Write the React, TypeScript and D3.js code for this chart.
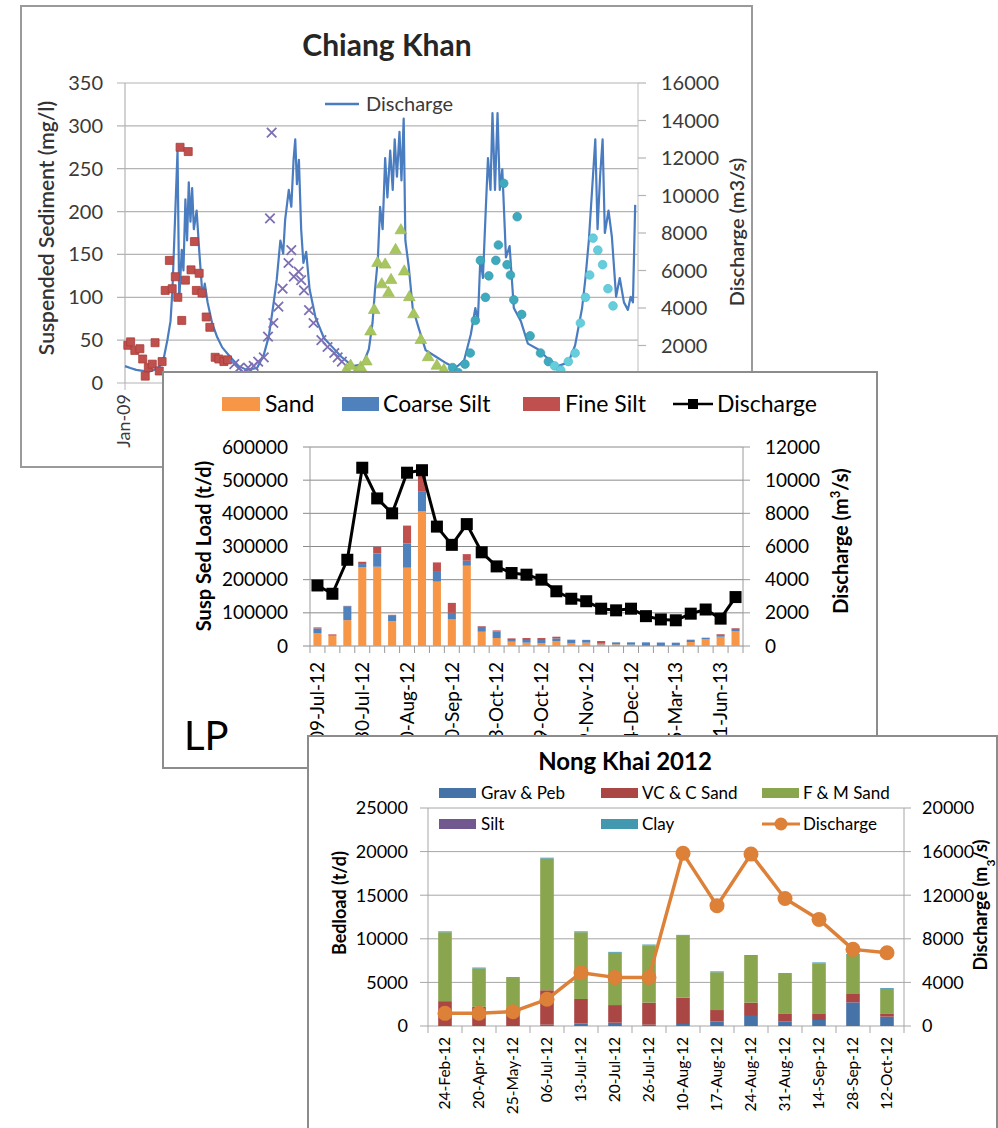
import React from "react";
import * as d3 from "d3";

const FONT = "Lato, 'Open Sans', 'Liberation Sans', sans-serif";

/* ================= Chiang Khan ================= */
const ckLeftTicks = [0, 50, 100, 150, 200, 250, 300, 350];
const ckRightTicks = [0, 2000, 4000, 6000, 8000, 10000, 12000, 14000, 16000];
const ckXLabels: [string, string][] = [["2009-01-01", "Jan-09"]];

const ckDischarge: [string, number][] = [
  ["2009-01-01", 900], ["2009-01-20", 800], ["2009-02-10", 700], ["2009-03-05", 650], ["2009-03-25", 600],
  ["2009-04-15", 700], ["2009-05-05", 900], ["2009-05-20", 1400], ["2009-06-01", 2300], ["2009-06-12", 3300],
  ["2009-06-19", 5000], ["2009-06-28", 8700], ["2009-07-07", 12400], ["2009-07-13", 4400], ["2009-07-22", 7100],
  ["2009-07-28", 6000], ["2009-08-04", 9800], ["2009-08-10", 7600], ["2009-08-16", 10700], ["2009-08-22", 8600],
  ["2009-08-28", 10400], ["2009-09-03", 8200], ["2009-09-13", 9200], ["2009-09-22", 7100], ["2009-10-04", 4600],
  ["2009-10-12", 5300], ["2009-10-22", 4300], ["2009-11-07", 3200], ["2009-11-25", 2450], ["2009-12-13", 1900],
  ["2010-01-10", 1400], ["2010-02-10", 900], ["2010-03-10", 700], ["2010-04-16", 800], ["2010-05-10", 1500],
  ["2010-05-28", 2500], ["2010-06-12", 4050], ["2010-06-25", 5500], ["2010-07-08", 7600], ["2010-07-18", 6900],
  ["2010-07-25", 8700], ["2010-08-07", 10300], ["2010-08-16", 9400], ["2010-08-24", 11900], ["2010-08-30", 13000],
  ["2010-09-05", 10600], ["2010-09-12", 11900], ["2010-09-20", 8200], ["2010-09-28", 6400], ["2010-10-08", 7000],
  ["2010-10-20", 5000], ["2010-11-10", 3500], ["2010-12-10", 2400], ["2011-01-10", 1900], ["2011-02-10", 1400],
  ["2011-03-22", 900], ["2011-04-28", 1000], ["2011-05-19", 1800], ["2011-06-01", 3200], ["2011-06-10", 5000],
  ["2011-06-20", 6600], ["2011-06-28", 9400], ["2011-07-07", 8200], ["2011-07-16", 12000], ["2011-07-24", 9900],
  ["2011-08-03", 12400], ["2011-08-12", 10300], ["2011-08-19", 13000], ["2011-08-27", 11000], ["2011-09-05", 13400],
  ["2011-09-12", 10800], ["2011-09-20", 14100], ["2011-09-26", 7600], ["2011-10-08", 6200], ["2011-10-22", 4000],
  ["2011-11-13", 2900], ["2011-12-07", 1750], ["2012-01-13", 1400], ["2012-02-19", 1050], ["2012-03-22", 800],
  ["2012-04-22", 1200], ["2012-05-16", 2600], ["2012-06-01", 4000], ["2012-06-10", 3300], ["2012-06-19", 6700],
  ["2012-06-28", 5600], ["2012-07-08", 9200], ["2012-07-16", 12000], ["2012-07-25", 10300], ["2012-08-01", 14400],
  ["2012-08-10", 10300], ["2012-08-19", 14400], ["2012-08-27", 10300], ["2012-09-05", 11400], ["2012-09-18", 6700],
  ["2012-10-01", 7300], ["2012-10-16", 4000], ["2012-11-10", 3300], ["2012-12-05", 2100], ["2013-01-10", 1800],
  ["2013-02-07", 1400], ["2013-03-22", 900], ["2013-04-28", 1100], ["2013-05-22", 2000], ["2013-06-16", 4000],
  ["2013-06-28", 5600], ["2013-07-10", 7600], ["2013-07-22", 10400], ["2013-08-02", 13000], ["2013-08-10", 8200],
  ["2013-08-19", 11000], ["2013-08-28", 13000], ["2013-09-05", 8000], ["2013-09-18", 9200], ["2013-09-30", 7800],
  ["2013-10-15", 4600], ["2013-10-28", 5600], ["2013-11-12", 4300], ["2013-11-26", 3900], ["2013-12-06", 4600],
  ["2013-12-14", 4300], ["2013-12-22", 9500],
];

const ckSS2009: [string, number][] = [
  ["2009-01-11", 44], ["2009-01-21", 48], ["2009-02-05", 38], ["2009-02-23", 40], ["2009-03-05", 28],
  ["2009-03-14", 8], ["2009-03-25", 18], ["2009-04-08", 22], ["2009-04-18", 47], ["2009-05-03", 14],
  ["2009-05-13", 25], ["2009-05-24", 108], ["2009-06-08", 143], ["2009-06-18", 110], ["2009-06-29", 124],
  ["2009-07-08", 100], ["2009-07-16", 275], ["2009-07-22", 73], ["2009-08-04", 120], ["2009-08-14", 270],
  ["2009-08-24", 132], ["2009-09-05", 165], ["2009-09-12", 108], ["2009-09-22", 128], ["2009-10-02", 105],
  ["2009-10-17", 77], ["2009-10-30", 65], ["2009-11-18", 30], ["2009-12-01", 28], ["2009-12-19", 25],
  ["2010-01-01", 27],
];
const ckSS2010: [string, number][] = [
  ["2010-01-25", 22], ["2010-02-10", 17], ["2010-02-28", 12], ["2010-03-15", 18], ["2010-04-04", 20],
  ["2010-04-20", 25], ["2010-05-10", 30], ["2010-05-25", 54], ["2010-06-01", 192], ["2010-06-07", 292],
  ["2010-06-13", 70], ["2010-07-01", 89], ["2010-07-16", 110], ["2010-08-06", 140], ["2010-08-16", 155],
  ["2010-08-25", 124], ["2010-09-11", 130], ["2010-09-20", 120], ["2010-09-30", 108], ["2010-10-18", 85],
  ["2010-11-03", 70], ["2010-12-01", 50], ["2010-12-23", 42], ["2011-01-16", 35], ["2011-01-28", 30],
  ["2011-02-12", 25],
];
const ckSS2011: [string, number][] = [
  ["2011-02-28", 15], ["2011-03-15", 20], ["2011-04-04", 12], ["2011-04-20", 18], ["2011-05-10", 25],
  ["2011-05-25", 60], ["2011-06-07", 85], ["2011-06-19", 140], ["2011-07-04", 115], ["2011-07-16", 138],
  ["2011-07-28", 105], ["2011-08-06", 120], ["2011-08-22", 155], ["2011-09-10", 178], ["2011-09-22", 130],
  ["2011-10-10", 100], ["2011-10-25", 80], ["2011-11-20", 50], ["2011-12-16", 30], ["2012-01-16", 20],
  ["2012-02-10", 15],
];
const ckSS2012: [string, number][] = [
  ["2012-03-12", 18], ["2012-04-01", 12], ["2012-04-25", 22], ["2012-05-14", 35], ["2012-06-01", 73],
  ["2012-06-19", 143], ["2012-07-07", 100], ["2012-07-19", 125], ["2012-08-13", 143], ["2012-08-22", 161],
  ["2012-09-10", 233], ["2012-09-22", 138], ["2012-10-04", 126], ["2012-10-16", 97], ["2012-10-28", 194],
  ["2012-11-13", 80], ["2012-12-13", 55], ["2013-01-19", 35], ["2013-02-16", 25],
];
const ckSS2013: [string, number][] = [
  ["2013-03-10", 20], ["2013-04-01", 15], ["2013-04-28", 25], ["2013-05-22", 35], ["2013-06-10", 70],
  ["2013-06-28", 100], ["2013-07-13", 126], ["2013-07-25", 169], ["2013-08-11", 155], ["2013-08-28", 138],
  ["2013-09-16", 110], ["2013-10-04", 90],
];

/* ================= LP ================= */
const lpTickLabels = [
  "09-Jul-12", "", "", "30-Jul-12", "", "", "20-Aug-12", "", "", "10-Sep-12", "", "", "03-Oct-12", "", "",
  "29-Oct-12", "", "", "19-Nov-12", "", "", "14-Dec-12", "", "", "15-Mar-13", "", "", "11-Jun-13", "",
];
const lpSand = [38000, 30000, 78000, 237000, 239000, 75000, 236000, 407000, 194000, 80000, 242000, 43000, 24000, 13000, 10000, 8000, 15000, 8000, 10000, 5000, 5000, 4000, 1000, 500, 2000, 12000, 20000, 28000, 44000];
const lpCoarse = [15000, 2000, 42000, 10000, 40000, 18000, 73000, 58000, 32000, 20000, 15000, 15000, 20000, 5000, 8000, 10000, 8000, 10000, 8000, 2000, 6000, 7000, 10000, 10000, 8000, 6000, 5000, 6000, 8000];
const lpFine = [3000, 3000, 1000, 7000, 20000, 1000, 54000, 50000, 26000, 30000, 20000, 2000, 3000, 5000, 6000, 6000, 5000, 1000, 500, 8000, 0, 0, 0, 0, 0, 1000, 0, 2000, 2000];
const lpDischarge = [3650, 3150, 5200, 10750, 8900, 8000, 10450, 10600, 7200, 6100, 7350, 5650, 4800, 4400, 4300, 4000, 3300, 2850, 2700, 2250, 2150, 2250, 1800, 1600, 1550, 1950, 2200, 1650, 2950];
const lpLeftTicks = [0, 100000, 200000, 300000, 400000, 500000, 600000];
const lpRightTicks = [0, 2000, 4000, 6000, 8000, 10000, 12000];

/* ================= Nong Khai ================= */
const nkCategories = ["24-Feb-12", "20-Apr-12", "25-May-12", "06-Jul-12", "13-Jul-12", "20-Jul-12", "26-Jul-12", "10-Aug-12", "17-Aug-12", "24-Aug-12", "31-Aug-12", "14-Sep-12", "28-Sep-12", "12-Oct-12"];
const nkGrav = [0, 0, 0, 150, 300, 380, 150, 230, 500, 1150, 500, 690, 2710, 1070];
const nkVC = [2850, 2200, 1700, 3950, 2800, 2020, 2530, 3020, 1330, 1530, 950, 690, 1040, 380];
const nkFM = [7900, 4400, 3800, 15100, 7650, 6000, 6560, 7100, 4330, 5350, 4510, 5810, 4400, 2790];
const nkSilt = [0, 0, 0, 0, 0, 0, 0, 0, 0, 0, 0, 0, 0, 0];
const nkClay = [100, 100, 100, 100, 100, 100, 100, 100, 100, 100, 100, 100, 100, 100];
const nkDischarge = [1160, 1170, 1310, 2450, 4890, 4460, 4460, 15840, 11040, 15770, 11700, 9780, 7030, 6720];
const nkLeftTicks = [0, 5000, 10000, 15000, 20000, 25000];
const nkRightTicks = [0, 4000, 8000, 12000, 16000, 20000];

const parse = d3.timeParse("%Y-%m-%d");

function RText({ x, y, children, size, weight = 400, fill = "#000", anchor = "middle" }: any) {
  return (
    <text transform={`translate(${x},${y}) rotate(-90)`} textAnchor={anchor} dy="0.35em" fontSize={size} fontWeight={weight} fill={fill}>
      {children}
    </text>
  );
}

function ChiangKhan() {
  const L = 125, R = 638, T = 83, B = 383;
  const x = d3.scaleTime().domain([parse("2009-01-01")!, parse("2014-01-01")!]).range([L, R]);
  const yL = d3.scaleLinear().domain([0, 350]).range([B, T]);
  const yR = d3.scaleLinear().domain([0, 16000]).range([B, T]);
  const line = d3.line<[string, number]>().x((d) => x(parse(d[0])!)).y((d) => yR(d[1]));
  const sym = (type: any, size: number) => d3.symbol().type(type).size(size)()!;
  const series = [
    { data: ckSS2009, path: sym(d3.symbolSquare, 64), fill: "#C0504D", stroke: "#a83c3a", sw: 0.8 },
    { data: ckSS2010, path: sym(d3.symbolX, 60), fill: "none", stroke: "#7d6fb4", sw: 1.8 },
    { data: ckSS2011, path: sym(d3.symbolTriangle, 60), fill: "#a8c660", stroke: "#98b650", sw: 0.6 },
    { data: ckSS2012, path: sym(d3.symbolCircle, 60), fill: "#3fa9bd", stroke: "#3196aa", sw: 0.6 },
    { data: ckSS2013, path: sym(d3.symbolCircle, 60), fill: "#66cddd", stroke: "#4fbccd", sw: 0.6 },
  ];
  return (
    <g>
      <rect x={21} y={6} width={731} height={461} fill="#fff" stroke="#9a9a9a" strokeWidth={2} />
      <text x={387} y={56} textAnchor="middle" fontSize={30} fontWeight={700} fill="#262626">Chiang Khan</text>
      {ckLeftTicks.map((t) => (
        <g key={t}>
          <line x1={L - 8} x2={R} y1={yL(t)} y2={yL(t)} stroke="#b4b4b4" strokeWidth={1.2} />
          <text x={103} y={yL(t)} dy="0.35em" textAnchor="end" fontSize={20} fill="#3a3a3a">{t}</text>
        </g>
      ))}
      <line x1={L} x2={L} y1={T} y2={B} stroke="#b4b4b4" strokeWidth={1.2} />
      <line x1={R} x2={R} y1={T} y2={B} stroke="#c8c8c8" strokeWidth={1.2} />
      {ckRightTicks.map((t) => (
        <g key={t}>
          <line x1={R} x2={R + 8} y1={yR(t)} y2={yR(t)} stroke="#b4b4b4" strokeWidth={1.2} />
          <text x={661} y={yR(t)} dy="0.35em" fontSize={20} fill="#3a3a3a">{t}</text>
        </g>
      ))}
      {ckXLabels.map(([d, lab]) => (
        <g key={lab}>
          <line x1={x(parse(d)!)} x2={x(parse(d)!)} y1={B} y2={B + 7} stroke="#b4b4b4" />
          <RText x={x(parse(d)!) - 1} y={394} anchor="end" size={18} fill="#3a3a3a">{lab}</RText>
        </g>
      ))}
      <path d={line(ckDischarge)!} fill="none" stroke="#4a7cc0" strokeWidth={2.2} strokeLinejoin="round" />
      {series.map((s, i) =>
        s.data.map((d, j) => (
          <path key={`${i}-${j}`} d={s.path} transform={`translate(${x(parse(d[0])!)},${yL(d[1])})`} fill={s.fill} stroke={s.stroke} strokeWidth={s.sw} />
        ))
      )}
      <line x1={325} x2={359} y1={104} y2={104} stroke="#4a7cc0" strokeWidth={2.5} />
      <text x={366} y={104} dy="0.35em" fontSize={20} fill="#3a3a3a">Discharge</text>
      <RText x={47} y={228} size={21} weight={600} fill="#333">Suspended Sediment  (mg/l)</RText>
      <RText x={737} y={232} size={20} weight={600} fill="#333">Discharge (m3/s)</RText>
    </g>
  );
}

function LP() {
  const L = 310, R = 743, T = 447, B = 646;
  const idx = d3.range(lpSand.length);
  const x = d3.scaleBand<number>().domain(idx).range([L, R]);
  const yL = d3.scaleLinear().domain([0, 600000]).range([B, T]);
  const yR = d3.scaleLinear().domain([0, 12000]).range([B, T]);
  const table = idx.map((i) => ({ i, sand: lpSand[i], coarse: lpCoarse[i], fine: lpFine[i] }));
  const keys = ["sand", "coarse", "fine"];
  const colors: Record<string, string> = { sand: "#F79646", coarse: "#4F81BD", fine: "#C0504D" };
  const stack = d3.stack<any>().keys(keys)(table);
  const bw = x.bandwidth() * 0.54;
  const cx = (i: number) => x(i)! + x.bandwidth() / 2;
  const line = d3.line<number>().x((_, i) => cx(i)).y((d) => yR(d));
  return (
    <g>
      <rect x={163} y={372} width={714} height={396} fill="#fff" stroke="#8c8c8c" strokeWidth={2} />
      <rect x={222} y={397} width={38} height={14} fill="#F79646" />
      <text x={265} y={404} dy="0.35em" fontSize={23}>Sand</text>
      <rect x={342} y={397} width={37} height={14} fill="#4F81BD" />
      <text x={383} y={404} dy="0.35em" fontSize={23}>Coarse Silt</text>
      <rect x={523} y={397} width={37} height={14} fill="#C0504D" />
      <text x={565} y={404} dy="0.35em" fontSize={23}>Fine Silt</text>
      <line x1={673} x2={713} y1={404} y2={404} stroke="#000" strokeWidth={2.5} />
      <rect x={688} y={399} width={10} height={10} fill="#000" />
      <text x={717} y={404} dy="0.35em" fontSize={23}>Discharge</text>
      {lpLeftTicks.map((t) => (
        <g key={t}>
          <line x1={L - 7} x2={R} y1={yL(t)} y2={yL(t)} stroke="#8a8a8a" strokeWidth={1} />
          <text x={288} y={yL(t)} dy="0.35em" textAnchor="end" fontSize={19}>{t}</text>
        </g>
      ))}
      <line x1={L} x2={L} y1={T} y2={B} stroke="#9a9a9a" />
      <line x1={R} x2={R} y1={T} y2={B} stroke="#9a9a9a" />
      {lpRightTicks.map((t) => (
        <g key={t}>
          <line x1={R} x2={R + 7} y1={yR(t)} y2={yR(t)} stroke="#9a9a9a" />
          <text x={765} y={yR(t)} dy="0.35em" fontSize={19}>{t}</text>
        </g>
      ))}
      {[...idx, idx.length].map((i) => {
        const xx = i < idx.length ? x(i)! : R;
        return <line key={i} x1={xx} x2={xx} y1={B} y2={B + 7} stroke="#9a9a9a" />;
      })}
      {stack.map((s) =>
        s.map((d: any, i: number) => (
          <rect key={`${s.key}-${i}`} x={cx(i) - bw / 2} width={bw} y={yL(d[1])} height={Math.max(0, yL(d[0]) - yL(d[1]))} fill={colors[s.key]} />
        ))
      )}
      <path d={line(lpDischarge)!} fill="none" stroke="#000" strokeWidth={3} strokeLinejoin="round" />
      {lpDischarge.map((v, i) => (
        <rect key={i} x={cx(i) - 6} y={yR(v) - 6} width={12} height={12} fill="#000" />
      ))}
      {lpTickLabels.map((lab, i) =>
        lab ? <RText key={i} x={cx(i)} y={662} anchor="end" size={19}>{lab}</RText> : null
      )}
      <RText x={204} y={546} size={20} weight={700}>Susp Sed Load (t/d)</RText>
      <text transform="translate(841,541) rotate(-90)" textAnchor="middle" dy="0.35em" fontSize={20} fontWeight={700}>
        Discharge (m<tspan baselineShift="super" fontSize={13}>3</tspan>/s)
      </text>
      <text x={184} y={750} fontSize={40}>LP</text>
    </g>
  );
}

function NongKhai() {
  const L = 428, R = 904, T = 808, B = 1026;
  const idx = d3.range(nkCategories.length);
  const x = d3.scaleBand<number>().domain(idx).range([L, R]);
  const yL = d3.scaleLinear().domain([0, 25000]).range([B, T]);
  const yR = d3.scaleLinear().domain([0, 20000]).range([B, T]);
  const table = idx.map((i) => ({ i, grav: nkGrav[i], vc: nkVC[i], fm: nkFM[i], silt: nkSilt[i], clay: nkClay[i] }));
  const keys = ["grav", "vc", "fm", "silt", "clay"];
  const colors: Record<string, string> = { grav: "#4572A7", vc: "#AA4643", fm: "#89A54E", silt: "#71588F", clay: "#4198AF" };
  const stack = d3.stack<any>().keys(keys)(table);
  const bw = x.bandwidth() * 0.4;
  const cx = (i: number) => x(i)! + x.bandwidth() / 2;
  const line = d3.line<number>().x((_, i) => cx(i)).y((d) => yR(d));
  const orange = "#DD8038";
  return (
    <g>
      <rect x={308} y={736} width={689} height={400} fill="#fff" stroke="#8c8c8c" strokeWidth={2} />
      <text x={625} y={770} textAnchor="middle" fontSize={24} fontWeight={700}>Nong Khai 2012</text>
      <rect x={439} y={788} width={37} height={10} fill={colors.grav} />
      <text x={481} y={793} dy="0.35em" fontSize={17}>Grav &amp; Peb</text>
      <rect x={601} y={788} width={37} height={10} fill={colors.vc} />
      <text x={642} y={793} dy="0.35em" fontSize={17}>VC &amp; C Sand</text>
      <rect x={762} y={788} width={37} height={10} fill={colors.fm} />
      <text x={803} y={793} dy="0.35em" fontSize={17}>F &amp; M Sand</text>
      <rect x={439} y={819} width={37} height={10} fill={colors.silt} />
      <text x={481} y={824} dy="0.35em" fontSize={17}>Silt</text>
      <rect x={601} y={819} width={37} height={10} fill={colors.clay} />
      <text x={642} y={824} dy="0.35em" fontSize={17}>Clay</text>
      <line x1={762} x2={800} y1={824} y2={824} stroke={orange} strokeWidth={3} />
      <circle cx={781} cy={824} r={6.5} fill={orange} />
      <text x={803} y={824} dy="0.35em" fontSize={17}>Discharge</text>
      {nkLeftTicks.map((t) => (
        <g key={t}>
          <line x1={L - 8} x2={R} y1={yL(t)} y2={yL(t)} stroke="#a6a6a6" strokeWidth={1} />
          <text x={408} y={yL(t)} dy="0.35em" textAnchor="end" fontSize={18}>{t}</text>
        </g>
      ))}
      <line x1={L} x2={L} y1={T} y2={B} stroke="#a6a6a6" />
      <line x1={R} x2={R} y1={T} y2={B} stroke="#a6a6a6" />
      {nkRightTicks.map((t) => (
        <g key={t}>
          <line x1={R} x2={R + 7} y1={yR(t)} y2={yR(t)} stroke="#a6a6a6" />
          <text x={922} y={yR(t)} dy="0.35em" fontSize={18}>{t}</text>
        </g>
      ))}
      {[...idx, idx.length].map((i) => {
        const xx = i < idx.length ? x(i)! : R;
        return <line key={i} x1={xx} x2={xx} y1={B} y2={B + 7} stroke="#a6a6a6" />;
      })}
      {stack.map((s) =>
        s.map((d: any, i: number) => (
          <rect key={`${s.key}-${i}`} x={cx(i) - bw / 2} width={bw} y={yL(d[1])} height={Math.max(0, yL(d[0]) - yL(d[1]))} fill={colors[s.key]} />
        ))
      )}
      <path d={line(nkDischarge)!} fill="none" stroke={orange} strokeWidth={3.5} strokeLinejoin="round" />
      {nkDischarge.map((v, i) => (
        <circle key={i} cx={cx(i)} cy={yR(v)} r={7.5} fill={orange} />
      ))}
      {nkCategories.map((lab, i) => (
        <RText key={i} x={cx(i)} y={1037} anchor="end" size={15.5}>{lab}</RText>
      ))}
      <RText x={340} y={903} size={18} weight={700}>Bedload (t/d)</RText>
      <text transform="translate(981,905) rotate(-90)" textAnchor="middle" dy="0.35em" fontSize={18} fontWeight={700}>
        Discharge (m<tspan baselineShift="sub" fontSize={12}>3</tspan>/s)
      </text>
    </g>
  );
}

export default function App() {
  return (
    <svg width={998} height={1128} style={{ position: "absolute", left: 0, top: 0, background: "#fff" }} fontFamily={FONT}>
      <rect x={0} y={0} width={998} height={1128} fill="#fff" />
      <ChiangKhan />
      <LP />
      <NongKhai />
    </svg>
  );
}
